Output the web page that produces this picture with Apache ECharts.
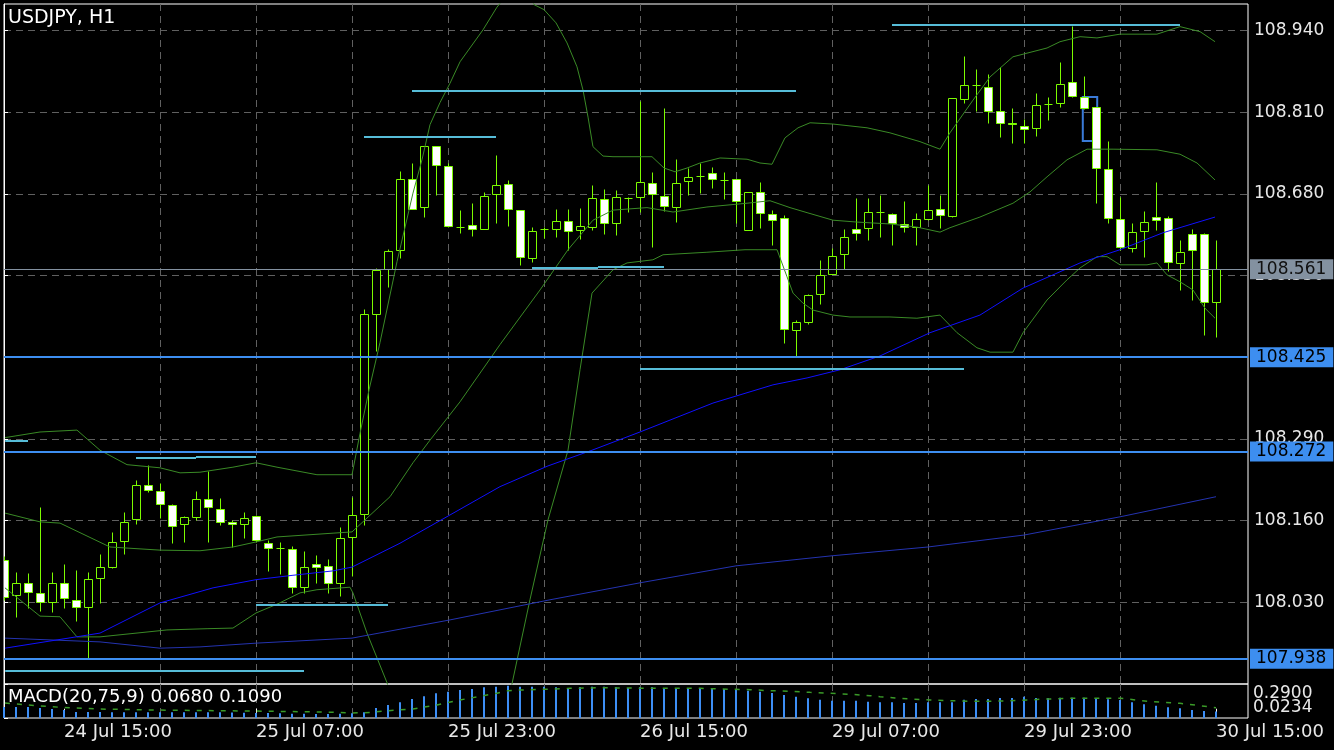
<!DOCTYPE html>
<html><head><meta charset="utf-8">
<script src="https://cdn.jsdelivr.net/npm/echarts@6/dist/echarts.min.js"></script>
<style>html,body{margin:0;background:#000}#c{width:1334px;height:750px}</style>
</head><body><div id="c"></div><script>
// ---- DATA ----
const symbolTitle = 'USDJPY, H1';
const tickIndex = [5, 21, 37, 53, 69, 85, 101];
const tickLabels = ['24 Jul 15:00', '25 Jul 07:00', '25 Jul 23:00', '26 Jul 15:00', '29 Jul 07:00', '29 Jul 23:00', '30 Jul 15:00'];
const gridIndex = [5, 13, 21, 29, 37, 45, 53, 61, 69, 77, 85, 93, 101];

const open = [108.097,108.042,108.061,108.045,108.031,108.061,108.034,108.023,108.069,108.086,
108.128,108.163,108.217,108.207,108.185,108.155,108.166,108.194,108.179,108.158,
108.155,108.167,108.124,108.116,108.115,108.054,108.091,108.088,108.061,108.134,
108.171,108.489,108.560,108.591,108.704,108.659,108.756,108.724,108.627,108.630,
108.624,108.680,108.696,108.654,108.578,108.624,108.624,108.637,108.623,108.627,
108.672,108.634,108.673,108.675,108.697,108.677,108.659,108.700,108.709,108.713,
108.702,108.704,108.623,108.683,108.648,108.642,108.463,108.476,108.521,108.552,
108.584,108.624,108.626,108.651,108.648,108.632,108.627,108.640,108.656,108.645,
108.831,108.853,108.850,108.812,108.793,108.788,108.785,108.823,108.825,108.858,
108.834,108.818,108.720,108.640,108.594,108.621,108.643,108.642,108.570,108.616,
108.616,108.508];
const high = [108.104,108.078,108.077,108.182,108.078,108.091,108.081,108.078,108.107,108.142,
108.174,108.225,108.249,108.220,108.187,108.167,108.207,108.239,108.196,108.161,
108.174,108.169,108.129,108.126,108.120,108.112,108.105,108.099,108.150,108.198,
108.497,108.562,108.592,108.716,108.729,108.756,108.756,108.729,108.654,108.665,
108.683,108.742,108.702,108.654,108.627,108.627,108.656,108.656,108.658,108.694,
108.688,108.686,108.675,108.828,108.715,108.817,108.736,108.721,108.729,108.723,
108.715,108.704,108.683,108.699,108.654,108.646,108.479,108.521,108.575,108.594,
108.624,108.673,108.673,108.678,108.650,108.669,108.650,108.694,108.678,108.833,
108.899,108.879,108.871,108.882,108.817,108.799,108.841,108.834,108.890,108.947,
108.868,108.818,108.764,108.675,108.634,108.653,108.699,108.645,108.607,108.624,
108.618,108.607];
const low = [108.034,108.007,108.021,108.016,108.015,108.021,108.000,107.940,108.029,108.085,
108.107,108.155,108.206,108.164,108.124,108.126,108.161,108.126,108.153,108.118,
108.132,108.126,108.080,108.075,108.045,108.045,108.061,108.045,108.040,108.072,
108.153,108.430,108.532,108.578,108.656,108.643,108.678,108.627,108.618,108.613,
108.624,108.634,108.629,108.567,108.572,108.610,108.611,108.591,108.608,108.623,
108.616,108.615,108.651,108.651,108.595,108.653,108.635,108.678,108.681,108.689,
108.672,108.634,108.623,108.626,108.599,108.443,108.420,108.473,108.505,108.552,
108.560,108.607,108.607,108.611,108.599,108.619,108.599,108.638,108.626,108.643,
108.825,108.812,108.793,108.771,108.761,108.761,108.772,108.798,108.818,108.834,
108.815,108.665,108.634,108.591,108.588,108.580,108.623,108.557,108.527,108.511,
108.455,108.452];
const close = [108.038,108.061,108.046,108.031,108.061,108.037,108.023,108.067,108.086,108.126,
108.158,108.217,108.209,108.187,108.151,108.166,108.194,108.182,108.158,108.155,
108.164,108.129,108.116,108.116,108.054,108.086,108.086,108.061,108.132,108.169,
108.489,108.559,108.589,108.704,108.656,108.756,108.726,108.629,108.627,108.624,
108.677,108.694,108.656,108.580,108.621,108.624,108.637,108.621,108.629,108.673,
108.634,108.675,108.673,108.699,108.680,108.661,108.697,108.707,108.709,108.704,
108.702,108.669,108.683,108.650,108.638,108.465,108.476,108.519,108.551,108.581,
108.611,108.618,108.651,108.651,108.634,108.627,108.640,108.654,108.646,108.833,
108.853,108.853,108.812,108.793,108.791,108.783,108.821,108.823,108.855,108.836,
108.817,108.721,108.642,108.595,108.619,108.635,108.638,108.572,108.588,108.591,
108.508,108.560];

// Bollinger bands [bar index, price]
const bbUpper = [[0.08,108.292],[3,108.301],[6.08,108.304],[8,108.272],[10.25,108.249],[13,108.244],[14.67,108.236],[16.33,108.237],[19.08,108.245],[21,108.252],[22.75,108.245],[26.08,108.233],[29,108.233],[29.67,108.299],[30.42,108.368],[31.33,108.443],[32.75,108.572],[34.08,108.681],[34.83,108.734],[35.5,108.790],[36.33,108.825],[37.17,108.856],[38,108.890],[39.92,108.941],[41.08,108.977],[42.58,109.012],[43.67,109.004],[44.17,108.981],[45,108.973],[46,108.952],[46.92,108.920],[47.75,108.882],[48.25,108.845],[48.67,108.802],[49.08,108.755],[49.92,108.740],[50.75,108.739],[54,108.739],[55,108.721],[55.92,108.715],[56.92,108.721],[58,108.729],[59.67,108.737],[61.92,108.735],[63,108.729],[64,108.727],[65.08,108.769],[66.17,108.785],[67.17,108.793],[69.08,108.791],[71.92,108.785],[73.83,108.777],[76.33,108.763],[78,108.751],[78.83,108.777],[80.75,108.829],[82.17,108.866],[84.08,108.898],[86.92,108.912],[88,108.922],[89.67,108.930],[91.08,108.928],[93,108.934],[96.08,108.934],[98,108.946],[99.67,108.938],[100.92,108.922]];
const bbMiddle = [[0.08,108.172],[3,108.158],[4.67,108.156],[8.83,108.118],[13,108.113],[16.33,108.112],[19.08,108.118],[21,108.126],[22.75,108.134],[27.42,108.140],[29,108.142],[32.17,108.198],[34.08,108.252],[35.5,108.288],[38,108.349],[41.33,108.440],[44.67,108.527],[47,108.591],[49.08,108.638],[50.75,108.654],[53.58,108.658],[55.75,108.651],[58.58,108.659],[61.92,108.665],[63.83,108.669],[65.5,108.658],[66.92,108.650],[69.08,108.638],[71.08,108.635],[73.83,108.632],[76.08,108.627],[78,108.619],[78.83,108.626],[81.33,108.643],[84.08,108.665],[85.5,108.683],[86.92,108.707],[88.58,108.734],[90.25,108.751],[92.42,108.751],[96.08,108.750],[98,108.743],[99.42,108.729],[100.92,108.702]];
const bbLower = [[0.08,108.053],[3,108.008],[4.67,108.007],[6.08,107.975],[8,107.975],[13.58,107.986],[16.92,107.988],[19.08,107.989],[21,108.013],[22.75,108.027],[24.67,108.045],[26.08,108.050],[28.83,108.054],[29.08,108.045],[30.25,107.981],[31.92,107.902],[33,107.827],[35.5,107.715],[38,107.684],[40.5,107.763],[42.33,107.900],[43.83,108.034],[45.33,108.161],[47,108.272],[48,108.400],[49,108.522],[50.75,108.559],[51.92,108.570],[54.08,108.575],[54.92,108.583],[58.58,108.587],[61.75,108.591],[64.42,108.591],[65.25,108.548],[65.75,108.522],[66.58,108.506],[67.42,108.495],[69.08,108.487],[70.5,108.484],[73.83,108.484],[76.08,108.482],[78,108.487],[79.42,108.459],[81.08,108.435],[82.17,108.428],[84.08,108.428],[84.92,108.459],[86.92,108.511],[88.58,108.543],[89.67,108.562],[91.08,108.580],[91.92,108.580],[93,108.567],[95.25,108.567],[96.08,108.570],[96.92,108.551],[98,108.540],[99.08,108.527],[100.08,108.498],[100.92,108.482]];
// moving averages
const maFast = [[0.08,107.957],[8,107.981],[13,108.029],[17.42,108.053],[21,108.066],[24.08,108.073],[27.42,108.080],[29,108.086],[33,108.124],[37.17,108.169],[41.33,108.214],[45.33,108.247],[49,108.272],[53,108.301],[59.08,108.347],[64.08,108.376],[66.92,108.387],[69.67,108.400],[73,108.422],[77.17,108.459],[81.33,108.487],[84.92,108.530],[89.67,108.570],[93,108.591],[96.58,108.618],[100.92,108.643]];
const maSlow = [[0.08,107.973],[8,107.967],[13,107.957],[16.33,107.959],[21,107.965],[29,107.973],[37.17,108.002],[45.5,108.034],[53,108.061],[61,108.088],[69,108.104],[77,108.118],[85,108.137],[93,108.166],[101,108.198]];

// horizontal levels
const bidPrice = 108.561;
const levelPrices = [108.425, 108.272, 107.938];
// short trend segments: [startIndex, endIndex, price]
const segStart = [0.1, 11, 16, 21, 0.1, 30, 34, 44, 49.5, 53, 74];
const segEnd   = [2, 16, 21, 32, 25, 41, 66, 49.5, 55, 80, 98];
const segPrice = [108.287, 108.260, 108.262, 108.026, 107.921, 108.770, 108.844, 108.562, 108.564, 108.401, 108.949];
// rectangle object
const rectFrom = [89.9, 108.834];
const rectTo = [91.1, 108.764];

// MACD(20,75,9)
const macdHist = [0.116,0.116,0.116,0.106,0.095,0.085,0.064,0.064,0.064,0.060,
0.060,0.060,0.060,0.060,0.060,0.060,0.060,0.060,0.060,0.058,
0.055,0.053,0.053,0.050,0.045,0.045,0.042,0.042,0.045,0.050,
0.060,0.106,0.138,0.166,0.201,0.230,0.262,0.278,0.296,0.307,
0.325,0.331,0.342,0.331,0.331,0.331,0.325,0.318,0.325,0.331,
0.331,0.325,0.318,0.325,0.325,0.318,0.318,0.318,0.314,0.307,
0.307,0.300,0.289,0.278,0.265,0.244,0.226,0.209,0.194,0.183,
0.183,0.183,0.173,0.166,0.166,0.159,0.159,0.166,0.166,0.166,
0.194,0.201,0.201,0.212,0.212,0.226,0.212,0.209,0.215,0.215,
0.215,0.209,0.198,0.191,0.166,0.145,0.130,0.113,0.103,0.085,
0.074,0.068];
const signalLine = [[0.08,0.159],[3,0.127],[5,0.111],[8,0.095],[12.17,0.085],[20.5,0.074],[27.17,0.062],[29,0.053],[30.5,0.058],[32,0.077],[34.08,0.095],[36.08,0.138],[38,0.191],[41.08,0.262],[42,0.289],[43,0.296],[45.08,0.304],[47.17,0.314],[49.67,0.321],[53.83,0.314],[58,0.314],[59.67,0.307],[62.17,0.300],[63.83,0.289],[65.5,0.283],[67.17,0.272],[68.83,0.262],[70.5,0.251],[72.17,0.236],[73,0.226],[74.25,0.212],[75.5,0.201],[77.17,0.191],[78.83,0.183],[80.5,0.177],[82.17,0.177],[83.83,0.183],[85.5,0.191],[86.33,0.198],[88.83,0.209],[91.33,0.209],[93,0.209],[93.83,0.198],[94.67,0.183],[96.33,0.169],[98,0.156],[99.67,0.130],[101,0.109]];
const macdScaleTop = 0.2900;
const macdScaleBottom = 0.0234;

// ---- STYLE ----
const FONT = 'DejaVu Sans';
const GREEN = '#7CFC00';
const BB = '#3a8a26';
const GRIDC = '#606060';
const LEVEL = '#3d8ef0';
const CYAN = '#56bcd8';
const XMAX = 1244 / 12;

const candleRows = open.map((o, i) => [i, o, high[i], low[i], close[i]]);

function renderCandle(params, api) {
  const i = api.value(0), o = api.value(1), h = api.value(2), l = api.value(3), c = api.value(4);
  const po = api.coord([i, o]), pc = api.coord([i, c]), ph = api.coord([i, h]), pl = api.coord([i, l]);
  const xc = Math.round(po[0]) + 0.5;
  const top = Math.round(Math.min(po[1], pc[1])) + 0.5;
  const bot = Math.round(Math.max(po[1], pc[1])) + 0.5;
  const half = 4;
  const kids = [{type: 'line', shape: {x1: xc, y1: Math.round(ph[1]) + 0.5, x2: xc, y2: Math.round(pl[1]) + 0.5},
                 style: {stroke: GREEN, lineWidth: 1}}];
  if (bot - top < 1) {
    kids.push({type: 'line', shape: {x1: xc - half, y1: top, x2: xc + half, y2: top}, style: {stroke: GREEN, lineWidth: 1}});
  } else {
    kids.push({type: 'rect', shape: {x: xc - half, y: top, width: half * 2, height: bot - top},
               style: {fill: c < o ? '#ffffff' : '#000000', stroke: GREEN, lineWidth: 1}});
  }
  return {type: 'group', children: kids};
}

const levelLines = levelPrices.map(p => ({
  yAxis: p,
  lineStyle: {color: LEVEL, width: 2, type: 'solid'},
  label: {show: true, position: 'end', distance: 2, formatter: () => p.toFixed(3), color: '#000',
          backgroundColor: LEVEL, padding: [2, 7, 1, 6], fontSize: 17, fontFamily: FONT}
}));
levelLines.push({
  yAxis: bidPrice,
  lineStyle: {color: '#8391a0', width: 1, type: 'solid'},
  label: {show: true, position: 'end', distance: 2, formatter: () => bidPrice.toFixed(3), color: '#111',
          backgroundColor: '#8391a0', padding: [2, 7, 1, 6], fontSize: 17, fontFamily: FONT}
});
const segLines = segPrice.map((p, k) => [
  {coord: [segStart[k], p], lineStyle: {color: CYAN, width: 2, type: 'solid'}, label: {show: false}},
  {coord: [segEnd[k], p]}
]);

const macdLabelAxis = (val) => ({
  type: 'value', gridIndex: 1, position: 'right', min: -0.1766, max: 0.4709,
  axisLine: {show: false}, axisTick: {show: false},
  axisLabel: {show: true, customValues: [val], hideOverlap: false, margin: 5, color: '#e8e8e8', fontSize: 17, fontFamily: FONT,
              formatter: v => v.toFixed(4)},
  splitLine: {show: false}
});

const option = {
  backgroundColor: '#000',
  animation: false,
  title: [
    {text: symbolTitle, left: 8, top: 9, padding: 0,
     textStyle: {color: '#fff', fontSize: 19, fontWeight: 'normal', fontFamily: FONT}},
    {text: 'MACD(20,75,9) ' + macdHist[macdHist.length - 1].toFixed(4) + ' ' + signalLine[signalLine.length - 1][1].toFixed(4),
     left: 8, top: 688, padding: 0,
     textStyle: {color: '#fff', fontSize: 18, fontWeight: 'normal', fontFamily: FONT}}
  ],
  grid: [
    {left: 4, top: 4, width: 1244, height: 680, show: true, borderColor: '#fff', borderWidth: 1, backgroundColor: 'transparent'},
    {left: 4, top: 684, width: 1244, height: 34, show: true, borderColor: '#fff', borderWidth: 1, backgroundColor: 'transparent'}
  ],
  xAxis: [
    {type: 'value', gridIndex: 0, min: 0, max: XMAX, axisLine: {show: false}, axisLabel: {show: false},
     axisTick: {show: false, customValues: gridIndex},
     splitLine: {show: true, showMinLine: false, showMaxLine: false, lineStyle: {color: GRIDC, type: [7, 5], width: 1}}},
    {type: 'value', gridIndex: 1, min: 0, max: XMAX, axisLine: {show: false}, axisLabel: {show: false},
     axisTick: {show: false, customValues: gridIndex},
     splitLine: {show: true, showMinLine: false, showMaxLine: false, lineStyle: {color: GRIDC, type: [7, 5], width: 1}}},
    {type: 'value', gridIndex: 1, min: 0, max: XMAX, position: 'bottom',
     axisLine: {show: false},
     axisTick: {show: true, customValues: tickIndex, length: 4, lineStyle: {color: '#fff'}},
     axisLabel: {show: true, customValues: tickIndex, align: 'left', margin: 5, color: '#e8e8e8', fontSize: 18, fontFamily: FONT,
                 formatter: v => tickLabels[tickIndex.indexOf(Math.round(v))] || ''},
     splitLine: {show: false}}
  ],
  yAxis: [
    {type: 'value', gridIndex: 0, position: 'right', min: 107.9, max: 108.982, interval: 0.13,
     axisLine: {show: true, lineStyle: {color: '#fff'}},
     axisTick: {show: true, length: 4, lineStyle: {color: '#fff'}},
     axisLabel: {show: true, margin: 6, color: '#e8e8e8', fontSize: 17, fontFamily: FONT, showMinLabel: false, showMaxLabel: false,
                 formatter: v => v.toFixed(3)},
     splitLine: {show: true, showMinLine: false, showMaxLine: false, lineStyle: {color: GRIDC, type: [7, 5], width: 1}}},
    {type: 'value', gridIndex: 1, position: 'right', min: 0, max: 0.36,
     axisLine: {show: true, lineStyle: {color: '#fff'}},
     axisTick: {show: true, customValues: [0, 0.36], length: 4, lineStyle: {color: '#fff'}},
     axisLabel: {show: false}, splitLine: {show: false}},
    macdLabelAxis(macdScaleTop),
    macdLabelAxis(macdScaleBottom)
  ],
  series: [
    {type: 'custom', name: 'candles', xAxisIndex: 0, yAxisIndex: 0, data: candleRows, renderItem: renderCandle,
     encode: {x: 0, y: [1, 2, 3, 4]}, clip: true, z: 2, silent: true},
    {type: 'line', name: 'bbUpper', data: bbUpper, xAxisIndex: 0, yAxisIndex: 0, showSymbol: false, symbol: 'none', clip: true,
     lineStyle: {color: BB, width: 1}, z: 3, silent: true},
    {type: 'line', name: 'bbMiddle', data: bbMiddle, xAxisIndex: 0, yAxisIndex: 0, showSymbol: false, symbol: 'none', clip: true,
     lineStyle: {color: BB, width: 1}, z: 3, silent: true},
    {type: 'line', name: 'bbLower', data: bbLower, xAxisIndex: 0, yAxisIndex: 0, showSymbol: false, symbol: 'none', clip: true,
     lineStyle: {color: BB, width: 1}, z: 3, silent: true},
    {type: 'line', name: 'maSlow', data: maSlow, xAxisIndex: 0, yAxisIndex: 0, showSymbol: false, symbol: 'none', clip: true,
     lineStyle: {color: '#2433b0', width: 1}, z: 3, silent: true,
     markLine: {symbol: ['none', 'none'], silent: true, animation: false, data: levelLines.concat(segLines)}},
    {type: 'line', name: 'maFast', data: maFast, xAxisIndex: 0, yAxisIndex: 0, showSymbol: false, symbol: 'none', clip: true,
     lineStyle: {color: '#1010ff', width: 1}, z: 3, silent: true,
     markArea: {silent: true, data: [[{coord: rectFrom, itemStyle: {color: 'rgba(0,0,0,0)', borderColor: '#3a7ad8', borderWidth: 2}}, {coord: rectTo}]]}},
    {type: 'bar', name: 'macd', data: macdHist.map((v, i) => [i, v]), xAxisIndex: 1, yAxisIndex: 1, barWidth: 2,
     itemStyle: {color: '#3d8ef5'}, silent: true},
    {type: 'line', name: 'signal', data: signalLine, xAxisIndex: 1, yAxisIndex: 1, showSymbol: false, symbol: 'none',
     lineStyle: {color: '#3a9a28', width: 1.5, type: [5, 7]}, silent: true}
  ]
};
const chart = echarts.init(document.getElementById('c'), null, {renderer: 'canvas'});
chart.setOption(option);
</script></body></html>
